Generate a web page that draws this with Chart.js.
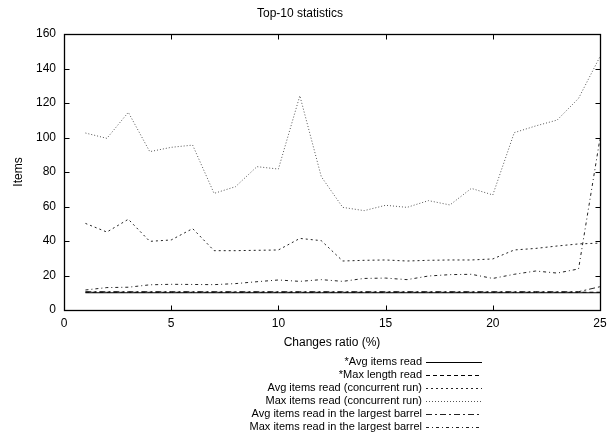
<!DOCTYPE html>
<html>
<head>
<meta charset="utf-8">
<script src="https://cdn.jsdelivr.net/npm/chart.js@4.4.1/dist/chart.umd.min.js"></script>
<style>
html,body{margin:0;padding:0;background:#fff;}
#wrap{width:609px;height:432px;}
</style>
</head>
<body>
<div id="wrap"><canvas id="c" width="609" height="432"></canvas></div>
<script>
const changesRatio = [1,2,3,4,5,6,7,8,9,10,11,12,13,14,15,16,17,18,19,20,21,22,23,24,25];
const avgItemsRead = [10,10,10,10,10,10,10,10,10,10,10,10,10,10,10,10,10,10,10,10,10,10,10,10,10];
const maxLengthRead = [10.3,10.3,10.3,10.3,10.3,10.3,10.3,10.3,10.3,10.3,10.3,10.3,10.3,10.3,10.3,10.3,10.3,10.3,10.3,10.3,10.3,10.3,10.3,10.3,10.3];
const avgConcurrent = [50.2,45.2,52.6,39.8,40.6,47.2,34.4,34.4,34.6,34.8,41.5,40.2,28.4,28.8,29,28.4,28.8,29,29,29.6,34.8,35.7,37.1,38.3,38.8];
const maxConcurrent = [102.6,99.5,114.6,91.8,94.3,95.6,67.6,71.5,83.1,81.7,124.2,77.3,59.5,57.6,60.7,59.5,63.4,60.9,70.5,66.7,102.8,106.7,110.1,122.7,146.9];
const avgLargestBarrel = [10.6,10.6,10.6,10.6,10.6,10.6,10.6,10.6,10.6,10.6,10.6,10.6,10.6,10.6,10.6,10.6,10.6,10.6,10.6,10.6,10.6,10.6,10.6,10.6,13.5];
const maxLargestBarrel = [11.6,13,13.2,14.6,14.9,14.8,14.7,15.3,16.4,17.4,16.6,17.6,16.6,18.3,18.5,17.6,19.7,20.5,20.7,18.3,20.7,22.6,21.4,23.8,99.5];
const seriesLabels = ['*Avg items read','*Max length read','Avg items read (concurrent run)','Max items read (concurrent run)','Avg items read in the largest barrel','Max items read in the largest barrel'];
const xTicks = [0,5,10,15,20,25];
const yTicks = [0,20,40,60,80,100,120,140,160];

const seriesValues = [avgItemsRead, maxLengthRead, avgConcurrent, maxConcurrent, avgLargestBarrel, maxLargestBarrel];
const styles = [
  {color:'#000', dash:[]},
  {color:'#000', dash:[4,3]},
  {color:'#222', dash:[2,3]},
  {color:'#555', dash:[1,2]},
  {color:'#222', dash:[6,3,2,3]},
  {color:'#222', dash:[3,3,1,3]}
];

Chart.defaults.font.family = '"Liberation Sans", Arial, sans-serif';
Chart.defaults.font.size = 12;
Chart.defaults.color = '#000';

const datasets = seriesValues.map((vals, i) => ({
  label: seriesLabels[i],
  data: changesRatio.map((x, j) => ({x: x, y: vals[j]})),
  borderColor: styles[i].color,
  borderDash: styles[i].dash,
  borderWidth: 1,
  pointRadius: 0,
  fill: false,
  tension: 0
}));

const frame = {
  id: 'frame',
  afterDatasetsDraw(chart) {
    const ctx = chart.ctx;
    const xs = chart.scales.x, ys = chart.scales.y;
    const l = Math.round(xs.getPixelForValue(0)) + 0.5;
    const r = Math.round(xs.getPixelForValue(25)) + 0.5;
    const t = Math.round(ys.getPixelForValue(160)) + 0.5;
    const b = Math.round(ys.getPixelForValue(0)) + 0.5;
    ctx.save();
    ctx.strokeStyle = '#000';
    ctx.lineWidth = 1;
    ctx.setLineDash([]);
    ctx.beginPath();
    xTicks.forEach(v => {
      const px = Math.round(xs.getPixelForValue(v)) + 0.5;
      ctx.moveTo(px, b); ctx.lineTo(px, b - 5);
      ctx.moveTo(px, t); ctx.lineTo(px, t + 5);
    });
    yTicks.forEach(v => {
      const py = Math.round(ys.getPixelForValue(v)) + 0.5;
      ctx.moveTo(l, py); ctx.lineTo(l + 5, py);
      ctx.moveTo(r, py); ctx.lineTo(r - 5, py);
    });
    ctx.stroke();
    ctx.lineWidth = 1.3;
    ctx.strokeRect(l, t, r - l, b - t);
    ctx.restore();
  },
  afterDraw(chart) {
    const ctx = chart.ctx;
    ctx.save();
    ctx.font = '11px "Liberation Sans", Arial, sans-serif';
    ctx.fillStyle = '#000';
    ctx.textAlign = 'right';
    ctx.textBaseline = 'middle';
    chart.data.datasets.forEach((ds, i) => {
      const y = 362 + i * 12.9;
      ctx.fillText(ds.label, 422, y);
      const yl = Math.round(y) + 0.5;
      ctx.strokeStyle = ds.borderColor;
      ctx.lineWidth = 1;
      ctx.setLineDash(ds.borderDash);
      ctx.beginPath();
      ctx.moveTo(426, yl);
      ctx.lineTo(482, yl);
      ctx.stroke();
    });
    ctx.restore();
  }
};

new Chart(document.getElementById('c'), {
  type: 'line',
  data: { datasets },
  plugins: [frame],
  options: {
    responsive: false,
    animation: false,
    layout: { padding: { left: 0, right: 9, top: 0, bottom: 80 } },
    plugins: {
      legend: { display: false },
      tooltip: { enabled: false },
      title: {
        display: true,
        text: 'Top-10 statistics',
        font: { size: 12, weight: 'normal' },
        color: '#000',
        padding: { top: 6, bottom: 13.6 }
      }
    },
    scales: {
      x: {
        type: 'linear',
        min: 0, max: 25,
        afterBuildTicks(scale) { scale.ticks = xTicks.map(v => ({value: v})); },
        afterFit(scale) { scale.height = 42; scale.paddingLeft = 0; scale.paddingRight = 0; },
        grid: { display: false, drawTicks: false },
        border: { display: false },
        ticks: { padding: 6, color: '#000', maxRotation: 0, autoSkip: false },
        title: { display: true, text: 'Changes ratio (%)', color: '#000', padding: { top: 0, bottom: 2 } }
      },
      y: {
        type: 'linear',
        min: 0, max: 160,
        afterBuildTicks(scale) { scale.ticks = yTicks.map(v => ({value: v})); },
        afterFit(scale) { scale.width = 64; scale.paddingTop = 0; scale.paddingBottom = 0; },
        grid: { display: false, drawTicks: false },
        border: { display: false },
        ticks: { padding: 8, color: '#000', autoSkip: false },
        title: { display: true, text: 'Items', color: '#000', padding: { top: 11, bottom: 0 } }
      }
    }
  }
});
</script>
</body>
</html>
